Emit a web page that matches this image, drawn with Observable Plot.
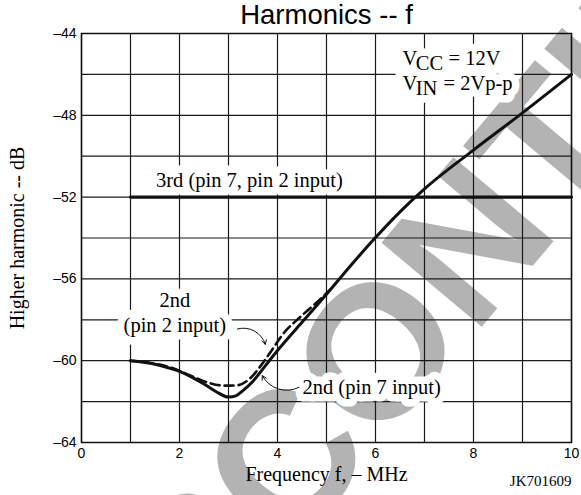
<!DOCTYPE html>
<html><head><meta charset="utf-8">
<script src="https://cdn.jsdelivr.net/npm/d3@7"></script>
<script src="https://cdn.jsdelivr.net/npm/@observablehq/plot@0.6"></script>
<style>body{margin:0;background:#fff}</style>
</head><body><div id="chart"></div>
<script>
// ---- data ----
const xTicks = [0, 2, 4, 6, 8, 10];
const xTickLabels = ["0", "2", "4", "6", "8", "10"];
const yTicks = [-64, -60, -56, -52, -48, -44];
const yTickLabels = ["–64", "–60", "–56", "–52", "–48", "–44"];
const xGrid = [0, 1, 2, 3, 4, 5, 6, 7, 8, 9, 10];
const yGrid = [-64, -62, -60, -58, -56, -54, -52, -50, -48, -46, -44];

// 2nd harmonic, pin 7 input (solid)
const pin7Freq = [1, 1.5, 1.75, 2.0, 2.25, 2.5, 2.75, 3.0, 3.15, 3.3, 3.5, 3.75, 4.0, 4.5, 5.0, 5.5, 6.0, 6.5, 7.0, 8.0, 9.0, 10];
const pin7Db   = [-60, -60.17, -60.33, -60.52, -60.8, -61.14, -61.52, -61.78, -61.72, -61.45, -61.0, -60.25, -59.5, -58.12, -56.75, -55.33, -53.98, -52.72, -51.6, -49.7, -47.88, -46.0];
// 2nd harmonic, pin 2 input (dashed)
const pin2Freq = [1, 1.5, 1.82, 2.23, 2.57, 2.91, 3.18, 3.46, 3.66, 3.83, 4.17, 4.41, 4.8, 5.1];
const pin2Db   = [-60, -60.15, -60.33, -60.73, -61.06, -61.22, -61.2, -60.82, -60.24, -59.67, -58.53, -57.98, -57.15, -56.47];
// 3rd harmonic
const thirdFreq = [1, 10];
const thirdDb = [-52, -52];

const titleText = "Harmonics -- f";
const xLabel = "Frequency f, – MHz";
const yLabel = "Higher harmonic -- dB";
const codeText = "JK701609";
const watermarkText = "DISCONTINUED";

// ---- build ----
const rows = (fs, ds) => fs.map((f, i) => ({f, db: ds[i]}));
const serif = "Liberation Serif";
const sans = "Liberation Sans";
const LF = 20.5;

const labels = [
  {x: 1.52, y: -51.11, text: "3rd (pin 7, pin 2 input)", anchor: "start", dx: 0, dy: 0},
  {x: 1.905, y: -57.59, text: "2nd\n(pin 2 input)", anchor: "middle", dx: 0, dy: 0},
  {x: 4.51, y: -61.23, text: "2nd (pin 7 input)", anchor: "start", dx: 0, dy: 0},
  {x: 6.55, y: -45.15, text: "V", anchor: "start", dx: 0, dy: 0},
  {x: 6.55, y: -45.15, text: "CC", anchor: "start", dx: 13.3, dy: 5},
  {x: 6.55, y: -45.15, text: "= 12V", anchor: "start", dx: 46, dy: 0},
  {x: 6.55, y: -46.37, text: "V", anchor: "start", dx: 0, dy: 0},
  {x: 6.55, y: -46.37, text: "IN", anchor: "start", dx: 13.3, dy: 5},
  {x: 6.55, y: -46.37, text: "= 2Vp-p", anchor: "start", dx: 41, dy: 0}
];
const labelMark = (l, extra) => Plot.text([l], {
  x: "x", y: "y", text: "text", textAnchor: l.anchor, dx: l.dx, dy: l.dy,
  fontFamily: serif, fontSize: LF, lineHeight: 1.22, lineAnchor: "middle", ...extra
});

const arrows = [
  {x1: 3.18, y1: -58.45, x2: 3.75, y2: -59.2},
  {x1: 4.44, y1: -61.3, x2: 3.69, y2: -60.73}
];
const watermark = [{x: 8.64, y: -52.36, text: watermarkText}];
const yLabelPos = [{x: -1.3, y: -54, text: yLabel}];

const chart = Plot.plot({
  width: 581, height: 495,
  marginLeft: 81, marginRight: 10, marginTop: 33, marginBottom: 53,
  x: {domain: [0, 10]},
  y: {domain: [-64, -44]},
  style: {fontFamily: sans, background: "white", color: "black"},
  marks: [
    Plot.text(watermark, {x: "x", y: "y", text: "text", rotate: -50, fontSize: 190, fontWeight: "bold",
      fontFamily: sans, fill: "#b3b3b3", lineAnchor: "middle"}),
    Plot.ruleX(xGrid, {stroke: "#1a1a1a", strokeWidth: 1.2}),
    Plot.ruleY(yGrid, {stroke: "#1a1a1a", strokeWidth: 1.2}),
    Plot.frame({stroke: "#111", strokeWidth: 1.5}),
    Plot.axisX(xTicks, {tickSize: 0, tickPadding: 6, fontSize: 14, fontFamily: sans, label: null,
      tickFormat: d => xTickLabels[xTicks.indexOf(d)]}),
    Plot.axisY(yTicks, {tickSize: 0, tickPadding: 5, fontSize: 14, fontFamily: sans, label: null,
      tickFormat: d => yTickLabels[yTicks.indexOf(d)]}),
    // halos then texts
    ...labels.map(l => labelMark(l, {fill: "white", stroke: "white", strokeWidth: 15, strokeLinejoin: "round"})),
    ...labels.map(l => labelMark(l, {fill: "black"})),
    // curves
    Plot.line(rows(thirdFreq, thirdDb), {x: "f", y: "db", stroke: "#111", strokeWidth: 3.2}),
    Plot.line(rows(pin2Freq, pin2Db), {x: "f", y: "db", stroke: "#111", strokeWidth: 2.6, curve: "monotone-x", strokeDasharray: "9,5"}),
    Plot.line(rows(pin7Freq, pin7Db), {x: "f", y: "db", stroke: "#111", strokeWidth: 3, curve: "monotone-x"}),
    Plot.arrow(arrows, {x1: "x1", y1: "y1", x2: "x2", y2: "y2", bend: 45, headLength: 7, stroke: "#111", strokeWidth: 1}),
    // titles
    Plot.text([titleText], {frameAnchor: "top", dy: -10, lineAnchor: "bottom", fontSize: 27.5, fontFamily: sans}),
    Plot.text([xLabel], {frameAnchor: "bottom", dy: 38, lineAnchor: "bottom", fontSize: 20, fontFamily: serif}),
    Plot.text([codeText], {frameAnchor: "bottom-right", textAnchor: "end", dy: 43, lineAnchor: "bottom", fontSize: 15, fontFamily: serif}),
    Plot.text(yLabelPos, {x: "x", y: "y", text: "text", rotate: -90, textAnchor: "middle", lineAnchor: "middle", fontSize: 20, fontFamily: serif})
  ]
});
document.getElementById("chart").appendChild(chart);
</script>
</body></html>
